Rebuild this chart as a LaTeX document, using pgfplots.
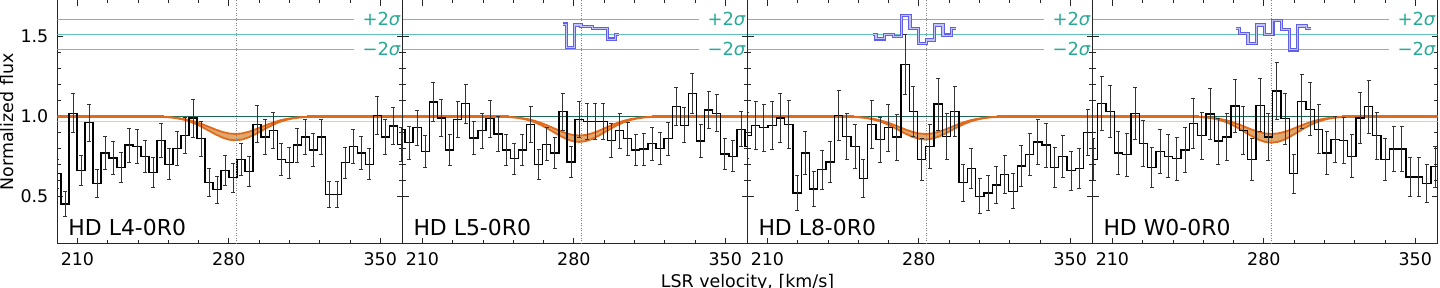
\documentclass[border=0pt]{standalone}
\usepackage{pgfplots}
\pgfplotsset{compat=1.18}
\usepackage{pgfplotstable}
\usepackage{fontspec}
\setmainfont{DejaVu Sans}
\definecolor{tealtxt}{RGB}{40,170,150}
\definecolor{tealline}{RGB}{100,195,185}
\definecolor{contgreen}{RGB}{30,105,85}
\definecolor{lightcy}{RGB}{175,220,240}
\definecolor{orng}{RGB}{226,106,28}
\definecolor{bandfill}{RGB}{222,168,110}
\definecolor{blueres}{RGB}{95,95,235}
\definecolor{bluein}{RGB}{195,195,252}

% ---------- spectra: velocity, normalized flux, error ----------
\pgfplotstableread{
v f e
200.6 0.64 0.093
204.3 0.45 0.079
208.0 1.02 0.122
211.7 0.66 0.095
215.4 0.96 0.117
219.1 0.58 0.089
222.8 0.77 0.103
226.5 0.74 0.101
230.2 0.68 0.096
233.9 0.82 0.107
237.6 0.81 0.106
241.3 0.75 0.101
245.0 0.65 0.094
248.7 0.85 0.109
252.4 0.70 0.098
256.1 0.80 0.105
259.8 0.88 0.111
263.5 0.99 0.119
267.2 0.86 0.110
270.9 0.585 0.089
274.6 0.54 0.086
278.3 0.66 0.095
282.0 0.615 0.091
285.7 0.73 0.100
289.4 0.655 0.094
293.1 0.95 0.116
296.8 0.87 0.110
300.5 0.91 0.113
304.2 0.73 0.100
307.9 0.71 0.098
311.6 0.82 0.107
315.3 0.87 0.110
319.0 0.79 0.104
322.7 0.87 0.110
326.4 0.51 0.083
330.1 0.51 0.083
333.8 0.71 0.098
337.5 0.81 0.106
341.2 0.77 0.103
344.9 0.70 0.098
348.6 1.005 0.120
352.3 0.87 0.110
356.0 0.94 0.116
359.7 0.825 0.107
}\dataA
\pgfplotstableread{
v f e
200.10 0.92 0.109
203.84 0.835 0.103
207.58 0.93 0.110
211.33 0.78 0.100
215.07 1.09 0.121
218.81 0.99 0.114
222.56 0.79 0.100
226.30 0.98 0.114
230.04 1.08 0.121
233.78 0.865 0.106
237.53 0.91 0.109
241.27 0.985 0.114
245.01 0.89 0.107
248.76 0.79 0.100
252.50 0.735 0.096
256.24 0.79 0.100
259.99 0.95 0.112
263.73 0.70 0.094
267.47 0.825 0.103
271.21 0.77 0.099
274.96 1.03 0.117
278.70 0.715 0.095
282.44 0.98 0.114
286.19 0.97 0.113
289.93 0.97 0.113
293.67 0.97 0.113
297.42 0.85 0.105
301.16 0.91 0.109
304.90 0.86 0.105
308.64 0.79 0.100
312.39 0.795 0.101
316.13 0.83 0.103
319.87 0.80 0.101
323.62 0.86 0.105
327.36 1.06 0.119
331.10 0.945 0.111
334.85 1.145 0.125
338.59 0.845 0.104
342.33 1.04 0.118
346.07 1.02 0.116
349.82 0.765 0.099
353.56 0.75 0.098
357.30 0.92 0.109
361.05 0.81 0.102
}\dataB
\pgfplotstableread{
v f e
200.66 0.88 0.144
204.50 0.945 0.150
208.34 0.93 0.148
212.18 0.945 0.150
216.02 0.99 0.154
219.86 0.95 0.150
223.70 0.52 0.109
227.54 0.77 0.133
231.38 0.545 0.112
235.22 0.665 0.123
239.06 0.715 0.128
242.90 1.005 0.155
246.74 0.875 0.143
250.58 0.81 0.137
254.42 0.61 0.118
258.26 0.95 0.150
262.10 0.855 0.141
265.94 0.93 0.148
269.78 0.87 0.143
273.62 1.325 0.186
277.46 1.03 0.158
281.30 0.73 0.129
285.14 0.81 0.137
288.98 1.077 0.162
292.82 0.875 0.143
296.66 1.033 0.158
300.50 0.585 0.116
304.34 0.675 0.124
308.18 0.50 0.108
312.02 0.52 0.109
315.86 0.57 0.114
319.70 0.635 0.120
323.54 0.53 0.110
327.38 0.69 0.126
331.22 0.76 0.132
335.06 0.84 0.140
338.90 0.82 0.138
342.74 0.68 0.125
346.58 0.75 0.131
350.42 0.66 0.123
354.26 0.675 0.124
358.10 0.90 0.146
361.94 0.90 0.146
}\dataC
\pgfplotstableread{
v f e
201.25 0.73 0.133
205.10 1.08 0.168
208.95 1.03 0.163
212.81 0.77 0.137
216.66 0.76 0.136
220.51 1.02 0.162
224.37 0.83 0.143
228.22 0.68 0.128
232.07 0.78 0.138
235.92 0.75 0.135
239.78 0.735 0.134
243.63 0.79 0.139
247.48 0.955 0.156
251.34 0.88 0.148
255.19 1.015 0.162
259.04 0.845 0.145
262.90 0.87 0.147
266.75 1.065 0.167
270.60 0.91 0.151
274.45 0.73 0.133
278.31 1.07 0.167
282.16 0.87 0.147
286.01 1.16 0.176
289.87 0.985 0.159
293.72 0.64 0.124
297.57 1.095 0.170
301.43 1.045 0.165
305.28 0.92 0.152
309.13 0.77 0.137
312.98 0.855 0.146
316.84 0.85 0.145
320.69 0.75 0.135
324.54 0.99 0.159
328.40 1.06 0.166
332.25 0.88 0.148
336.10 0.73 0.133
339.96 0.795 0.140
343.81 0.795 0.140
347.66 0.62 0.122
351.51 0.62 0.122
355.37 0.58 0.118
359.22 0.685 0.129
363.07 0.70 0.130
}\dataD

% ---------- model absorption band outlines (upper edge forward, lower edge back) ----------
\pgfplotstableread{
v b
239 .9999
245 .9993
249 .9980
253 .9952
256 .9912
259 .9851
262 .9762
265 .9643
268 .9496
271 .9333
274 .9170
277 .9029
280 .8934
283 .8900
286 .8934
289 .9029
292 .9170
295 .9333
298 .9496
301 .9643
304 .9762
307 .9851
310 .9912
313 .9952
317 .9980
321 .9993
327 .9999
327 .9998
321 .9990
317 .9973
313 .9934
310 .9881
307 .9797
304 .9676
301 .9513
298 .9313
295 .9090
292 .8868
289 .8676
286 .8546
283 .8500
280 .8546
277 .8676
274 .8868
271 .9090
268 .9313
265 .9513
262 .9676
259 .9797
256 .9881
253 .9934
249 .9973
245 .9990
239 .9998
}\bandA
\pgfplotstableread{
v b
238.5 .9999
244.5 .9992
248.5 .9978
252.5 .9947
255.5 .9904
258.5 .9838
261.5 .9740
264.5 .9610
267.5 .9451
270.5 .9272
273.5 .9094
276.5 .8941
279.5 .8837
282.5 .8800
285.5 .8837
288.5 .8941
291.5 .9094
294.5 .9272
297.5 .9451
300.5 .9610
303.5 .9740
306.5 .9838
309.5 .9904
312.5 .9947
316.5 .9978
320.5 .9992
326.5 .9999
326.5 .9998
320.5 .9989
316.5 .9971
312.5 .9930
309.5 .9873
306.5 .9784
303.5 .9654
300.5 .9480
297.5 .9268
294.5 .9030
291.5 .8792
288.5 .8588
285.5 .8449
282.5 .8400
279.5 .8449
276.5 .8588
273.5 .8792
270.5 .9030
267.5 .9268
264.5 .9480
261.5 .9654
258.5 .9784
255.5 .9873
252.5 .9930
248.5 .9971
244.5 .9989
238.5 .9998
}\bandB
\pgfplotstableread{
v b
239 .9999
245 .9993
249 .9980
253 .9952
256 .9912
259 .9851
262 .9762
265 .9643
268 .9496
271 .9333
274 .9170
277 .9029
280 .8934
283 .8900
286 .8934
289 .9029
292 .9170
295 .9333
298 .9496
301 .9643
304 .9762
307 .9851
310 .9912
313 .9952
317 .9980
321 .9993
327 .9999
327 .9998
321 .9990
317 .9974
313 .9936
310 .9885
307 .9804
304 .9686
301 .9529
298 .9336
295 .9121
292 .8906
289 .8720
286 .8595
283 .8550
280 .8595
277 .8720
274 .8906
271 .9121
268 .9336
265 .9529
262 .9686
259 .9804
256 .9885
253 .9936
249 .9974
245 .9990
239 .9998
}\bandC
\pgfplotstableread{
v b
239.5 .9999
245.5 .9993
249.5 .9980
253.5 .9952
256.5 .9912
259.5 .9851
262.5 .9762
265.5 .9643
268.5 .9496
271.5 .9333
274.5 .9170
277.5 .9029
280.5 .8934
283.5 .8900
286.5 .8934
289.5 .9029
292.5 .9170
295.5 .9333
298.5 .9496
301.5 .9643
304.5 .9762
307.5 .9851
310.5 .9912
313.5 .9952
317.5 .9980
321.5 .9993
327.5 .9999
327.5 .9998
321.5 .9989
317.5 .9970
313.5 .9928
310.5 .9869
307.5 .9777
304.5 .9643
301.5 .9464
298.5 .9245
295.5 .9000
292.5 .8755
289.5 .8544
286.5 .8401
283.5 .8350
280.5 .8401
277.5 .8544
274.5 .8755
271.5 .9000
268.5 .9245
265.5 .9464
262.5 .9643
259.5 .9777
256.5 .9869
253.5 .9928
249.5 .9970
245.5 .9989
239.5 .9998
}\bandD

\pgfplotsset{
  panel/.style={
    scale only axis, width=345bp, height=244bp, anchor=south west,
    xmin=200.8, xmax=360.3, ymin=0.2, ymax=1.73,
    xtick={210,280,350}, xticklabels={210,280,350},
    minor x tick num=4,
    ytick={0.5,1.0,1.5}, minor y tick num=4,
    tick align=inside, xtick pos=both, ytick pos=both,
    major tick length=6bp, minor tick length=3.5bp,
    tick style={black!85, line width=0.8bp},
    axis line style={black!85, line width=1bp},
    /pgf/number format/assume math mode=true,
    xticklabel style={font=\fontsize{17.5}{21}\selectfont, inner sep=0pt, anchor=north, yshift=-8bp},
    yticklabel style={font=\fontsize{17.5}{21}\selectfont, inner sep=0pt, anchor=east, xshift=-9bp},
  },
}
\tikzset{
  plabel/.style={anchor=base west, inner sep=0pt, font=\fontsize{22}{26}\selectfont},
  slabel/.style={anchor=east, inner sep=0pt, text=tealtxt, font=\fontsize{18}{22}\selectfont},
}

% one panel: #1 spectrum table, #2 band outline table, #3 label
\newcommand{\drawpanel}[3]{%
  \addplot[tealline, line width=0.8bp, mark=none] coordinates {(200.8,1.61) (338,1.61)};
  \addplot[tealline, line width=0.8bp, mark=none] coordinates {(200.8,1.515) (360.3,1.515)};
  \addplot[tealline, line width=0.8bp, mark=none] coordinates {(200.8,1.42) (338,1.42)};
  \addplot[lightcy, line width=0.8bp, mark=none] coordinates {(200.8,0.967) (360.3,0.967)};
  \addplot[contgreen, line width=1.2bp, mark=none] coordinates {(200.8,1.0) (360.3,1.0)};
  \addplot[fill=bandfill, draw=orng, line width=1.8bp, mark=none] table[x=v,y=b]{#2} -- cycle;
  \addplot[orng, line width=2.8bp, mark=none] coordinates {(200.8,1.0) (250,1.0)};
  \addplot[orng, line width=2.8bp, mark=none] coordinates {(316,1.0) (360.3,1.0)};
  \addplot[const plot mark mid, black, line width=1.3bp, mark=none] table[x=v,y=f]{#1};
  \addplot[draw=none, mark=none,
    error bars/y dir=both, error bars/y explicit,
    error bars/error bar style={black!80, line width=0.9bp},
    error bars/error mark options={rotate=90, black!80, line width=0.9bp, mark size=2bp}]
    table[x=v,y=f,y error=e]{#1};
  \addplot[gray, line width=0.8bp, dash pattern=on 1bp off 1.5bp, mark=none] coordinates {(283.4,0.2) (283.4,1.73)};
  \node[slabel] at (axis cs:360.3,1.61) [xshift=-1.5bp] {+2\textit{σ}};
  \node[slabel] at (axis cs:360.3,1.42) [xshift=-1.5bp] {−2\textit{σ}};
  \node[plabel] at (rel axis cs:0,0) [xshift=10.8bp, yshift=8.3bp] {#3};
}

\begin{document}
\begin{tikzpicture}

% ---------------- panel 1 ----------------
\begin{axis}[panel, at={(0bp,0bp)}, yticklabels={0.5,1.0,1.5}]
\drawpanel{\dataA}{\bandA}{HD L4-0R0}
\end{axis}

% ---------------- panel 2 ----------------
\begin{axis}[panel, at={(345bp,0bp)}, yticklabels={}]
\drawpanel{\dataB}{\bandB}{HD L5-0R0}
\addplot[const plot, blueres, line width=3.2bp, mark=none] coordinates {(274.8,1.579) (276.8,1.431) (280.5,1.573) (283.3,1.563) (288.6,1.549) (295.5,1.485) (299.1,1.512) (300.9,1.512)};
\addplot[const plot, bluein, line width=1.1bp, mark=none] coordinates {(274.8,1.579) (276.8,1.431) (280.5,1.573) (283.3,1.563) (288.6,1.549) (295.5,1.485) (299.1,1.512) (300.9,1.512)};
\end{axis}

% ---------------- panel 3 ----------------
\begin{axis}[panel, at={(690bp,0bp)}, yticklabels={}]
\drawpanel{\dataC}{\bandC}{HD L8-0R0}
\addplot[const plot, blueres, line width=3.2bp, mark=none] coordinates {(258.7,1.515) (260.2,1.486) (264.1,1.515) (268.2,1.50) (272.0,1.631) (275.9,1.552) (279.7,1.459) (283.6,1.479) (287.4,1.573) (291.2,1.51) (295.1,1.552) (297.1,1.552)};
\addplot[const plot, bluein, line width=1.1bp, mark=none] coordinates {(258.7,1.515) (260.2,1.486) (264.1,1.515) (268.2,1.50) (272.0,1.631) (275.9,1.552) (279.7,1.459) (283.6,1.479) (287.4,1.573) (291.2,1.51) (295.1,1.552) (297.1,1.552)};
\end{axis}

% ---------------- panel 4 ----------------
\begin{axis}[panel, at={(1035bp,0bp)}, yticklabels={}]
\drawpanel{\dataD}{\bandD}{HD W0-0R0}
\addplot[const plot, blueres, line width=3.2bp, mark=none] coordinates {(267.0,1.552) (268.8,1.521) (272.7,1.459) (276.5,1.573) (280.4,1.515) (284.2,1.60) (288.0,1.546) (291.9,1.417) (295.7,1.567) (299.6,1.552) (302.0,1.552)};
\addplot[const plot, bluein, line width=1.1bp, mark=none] coordinates {(267.0,1.552) (268.8,1.521) (272.7,1.459) (276.5,1.573) (280.4,1.515) (284.2,1.60) (288.0,1.546) (291.9,1.417) (295.7,1.567) (299.6,1.552) (302.0,1.552)};
\end{axis}

\node[rotate=90, anchor=base, inner sep=0pt, font=\fontsize{17.5}{21}\selectfont] at (-43.7bp,122bp) {Normalized flux};
\node[anchor=base, inner sep=0pt, font=\fontsize{17.5}{21}\selectfont] at (690bp,-43.8bp) {LSR velocity, [km/s]};
\pgfresetboundingbox
\path[use as bounding box] (-57.5bp,-44bp) rectangle (1382.5bp,244bp);
\end{tikzpicture}
\end{document}
